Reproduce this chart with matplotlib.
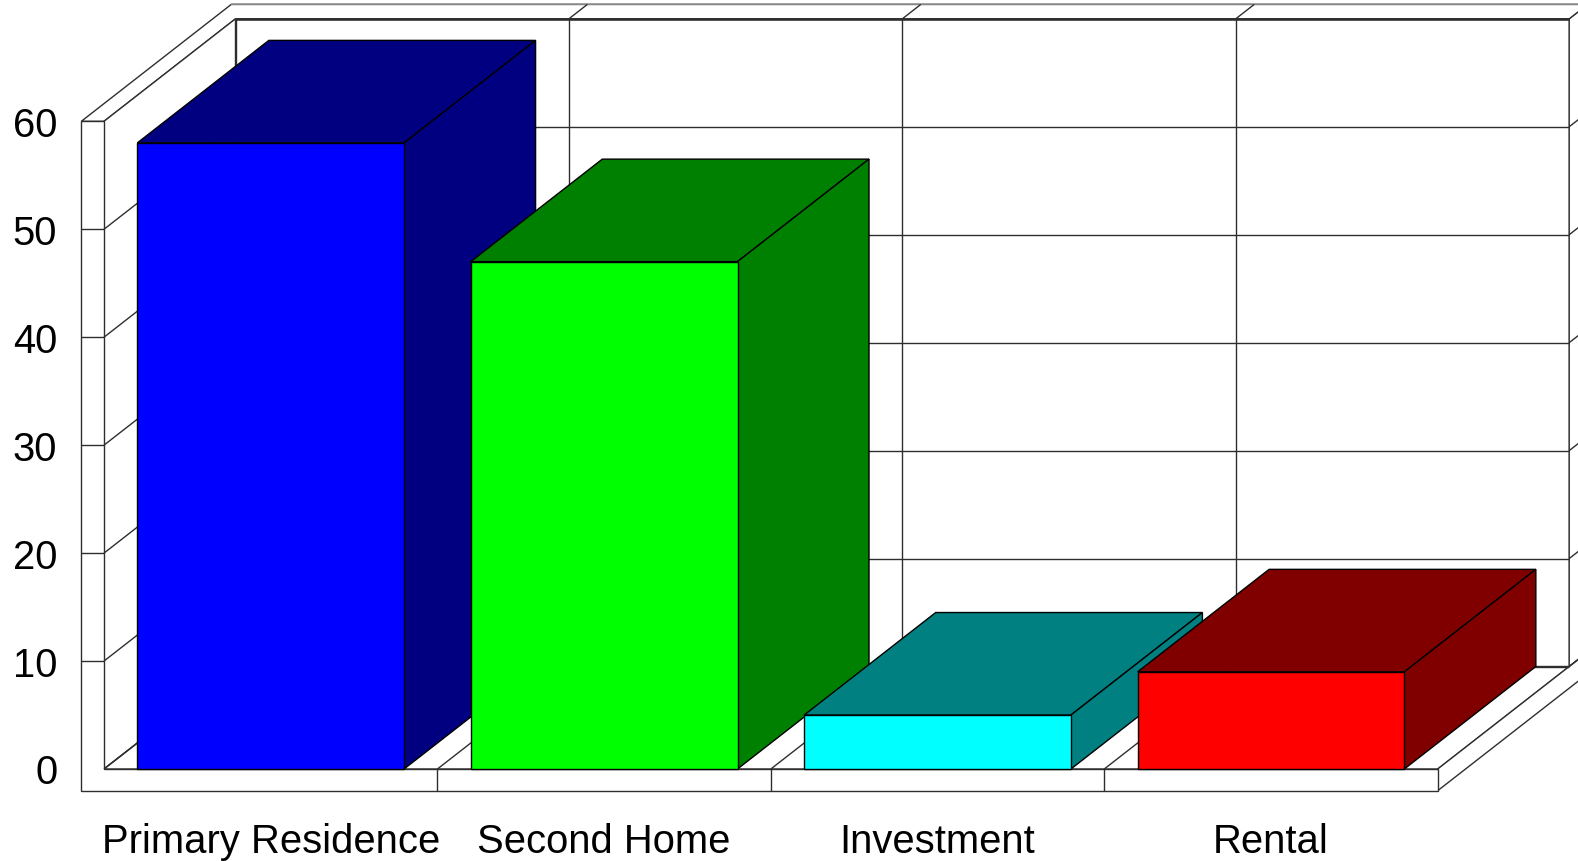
import matplotlib
matplotlib.use("Agg")
import matplotlib.pyplot as plt
from matplotlib.patches import Polygon

# ---- data -------------------------------------------------------------
categories = ["Primary Residence", "Second Home", "Investment", "Rental"]
values = [58, 47, 5, 9]
front_colors = ["#0000FF", "#00FF00", "#00FFFF", "#FF0000"]
shade_colors = ["#000080", "#008000", "#008080", "#800000"]
y_ticks = [0, 10, 20, 30, 40, 50, 60]
y_max = 60

# ---- layout (pixels on a 1578x862 canvas) ------------------------------
W, H = 1578, 862
front_left_px, front_right_px = 104.0, 1437.7      # floor front edge
zero_px, top_px = 770.0, 122.3                      # value 0 / value 60
depth_px = (131.5, 102.5)                           # receding vector (right, up)
left_wall_px = 22.7                                 # left wall thickness
floor_px = 21.7                                     # floor slab thickness
back_frac = 0.14                                    # back wall thickness (fraction of depth)
bar_gap = 0.1                                       # gap on each side of a bar
cat_baseline_px = 853.3                             # baseline of category labels

n = len(categories)
sx = (front_right_px - front_left_px) / n
sy = (zero_px - top_px) / y_max
ddx, ddy = depth_px[0] / sx, depth_px[1] / sy
lt = left_wall_px / sx
ft = floor_px / sy
bx, by = ddx * (1 + back_frac), ddy * (1 + back_frac)

fig = plt.figure(figsize=(W / 100, H / 100), dpi=100)
ax = fig.add_axes([0, 0, 1, 1])
ax.set_axis_off()
ax.set_xlim(-front_left_px / sx, (W - front_left_px) / sx)
ax.set_ylim((zero_px - H) / sy, zero_px / sy)

EDGE = "#2e2e2e"
LW = 1.0


def face(pts, fc="white", ec=EDGE, lw=LW, z=1):
    ax.add_patch(Polygon(pts, closed=True, facecolor=fc, edgecolor=ec,
                         linewidth=lw, joinstyle="miter", zorder=z))


def seg(p, q, color=EDGE, lw=LW, z=2):
    ax.plot([p[0], q[0]], [p[1], q[1]], color=color, linewidth=lw,
            solid_capstyle="butt", zorder=z)


# ---- walls and floor ---------------------------------------------------
# back wall face
face([(ddx, ddy), (n + ddx, ddy), (n + ddx, y_max + ddy), (ddx, y_max + ddy)])
# back wall right side
face([(n + ddx, ddy), (n + ddx, y_max + ddy), (n + bx, y_max + by), (n + bx, by)])
# top of left wall + back wall
face([(-lt, y_max), (0, y_max), (ddx, y_max + ddy), (n + ddx, y_max + ddy),
      (n + bx, y_max + by), (-lt + bx, y_max + by)])
seg((-lt + bx, y_max + by), (n + bx, y_max + by), color="#9a9a9a", lw=1.2)
# left wall inner face
face([(0, 0), (0, y_max), (ddx, y_max + ddy), (ddx, ddy)])
# floor top
face([(0, 0), (n, 0), (n + ddx, ddy), (ddx, ddy)])
# floor right side
face([(n, 0), (n, -ft), (n + bx, -ft + by), (n + bx, by)])
# front faces of left wall and floor
face([(-lt, y_max), (0, y_max), (0, 0), (n, 0), (n, -ft), (-lt, -ft)])

# back wall top edge drawn heavier
seg((ddx, y_max + ddy), (n + ddx, y_max + ddy), lw=1.8, z=3)

# gridlines
for v in y_ticks[:-1]:
    seg((ddx, v + ddy), (n + ddx, v + ddy))               # back wall
    seg((0, v), (ddx, v + ddy))                           # left wall
    seg((n + ddx, v + ddy), (n + bx, v + by))             # back wall side
    if v > 0:
        seg((-lt, v), (0, v))                             # tick on front face
for i in range(1, n):
    seg((i + ddx, ddy), (i + ddx, y_max + ddy))           # back wall dividers
    seg((i + ddx, y_max + ddy), (i + bx, y_max + by))     # top dividers
    seg((i, 0), (i + ddx, ddy))                           # floor dividers
    seg((i, 0), (i, -ft))                                 # floor front dividers

# ---- bars --------------------------------------------------------------
for i, (v, fc, sc) in enumerate(zip(values, front_colors, shade_colors)):
    x0, x1 = i + bar_gap, i + 1 - bar_gap
    face([(x0, v), (x1, v), (x1 + ddx, v + ddy), (x0 + ddx, v + ddy)],
         fc=sc, ec="black", z=5)
    face([(x1, 0), (x1, v), (x1 + ddx, v + ddy), (x1 + ddx, ddy)],
         fc=sc, ec="black", z=5)
    face([(x0, 0), (x1, 0), (x1, v), (x0, v)], fc=fc, ec="black", z=6)

# ---- labels ------------------------------------------------------------
FONT = "Liberation Sans"
FS = 28.8
label_x = -lt - 24 / sx
for v in y_ticks:
    ax.text(label_x, v - 14.5 / sy, f"{v}", ha="right", va="baseline",
            fontsize=FS, family=FONT, color="black", zorder=10)
cat_y = -(cat_baseline_px - zero_px) / sy
for i, name in enumerate(categories):
    ax.text(i + 0.5, cat_y, name, ha="center", va="baseline", fontsize=FS,
            family=FONT, color="black", zorder=10)

fig.savefig("out.png", dpi=100, facecolor="white")
